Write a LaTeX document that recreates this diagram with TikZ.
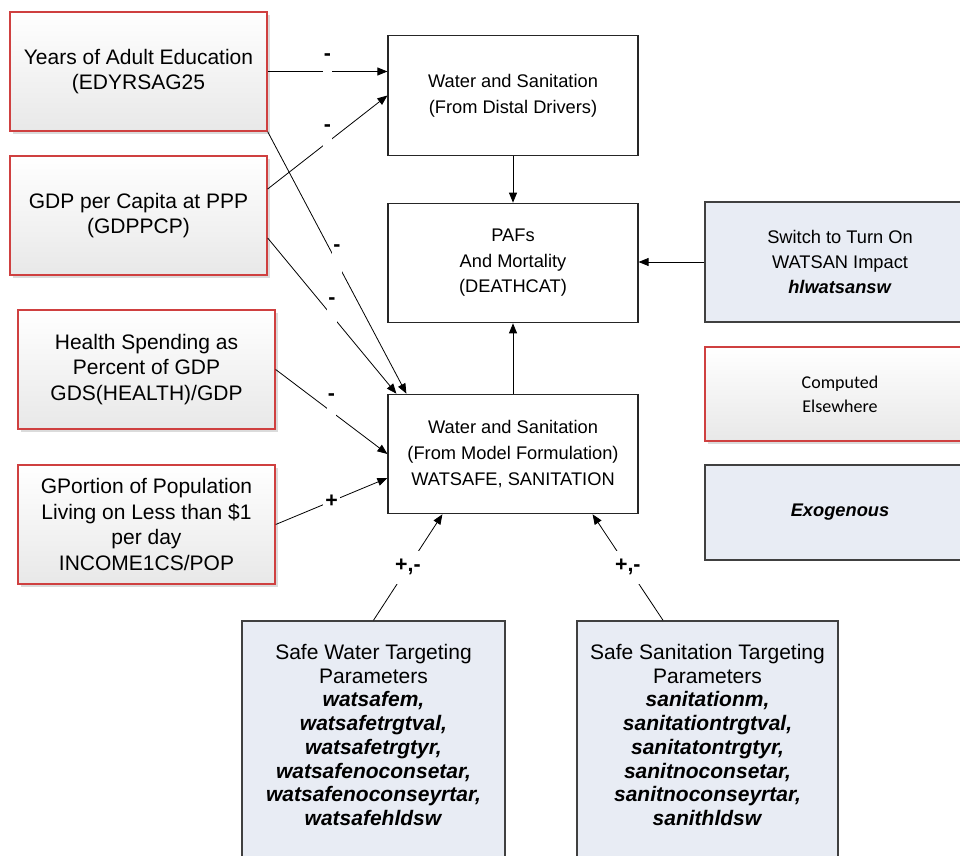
\documentclass[tikz,border=0pt]{standalone}
\usepackage{fontspec}
\setmainfont{Liberation Sans}
\newfontfamily\calfont{Carlito}
\usetikzlibrary{arrows.meta,shadows,calc}
\definecolor{boxred}{HTML}{CF4040}
\definecolor{boxgray}{HTML}{E8E8E8}
\definecolor{paramblue}{HTML}{E8ECF4}
\definecolor{edgegray}{HTML}{404040}
\begin{document}
\begin{tikzpicture}[x=0.75pt,y=-0.75pt,
  srcbox/.style={draw=boxred, line width=1pt, top color=white, bottom color=boxgray,
    drop shadow={shadow xshift=2.6pt, shadow yshift=-2.6pt, fill=black!14, opacity=1},
    minimum width=192.75pt, minimum height=89.25pt, inner sep=0pt, align=center,
    font=\fontsize{15.75}{19.3}\selectfont},
  calcbox/.style={draw=black!85, line width=0.9pt, fill=white,
    minimum width=187.5pt, minimum height=89.6pt, inner sep=0pt, align=center,
    font=\fontsize{13.7}{19.2}\selectfont},
  exobox/.style={draw=edgegray, line width=1.1pt, fill=paramblue,
    inner sep=0pt, align=center, font=\fontsize{13.7}{19}\selectfont},
  parmtext/.style={inner sep=0pt, align=center, font=\fontsize{15.75}{17.8}\selectfont},
  arr/.style={-{Triangle[length=7.5pt,width=6pt]}, line width=0.6pt},
  gap/.style={fill=white, inner sep=0pt, minimum width=7pt, minimum height=24pt},
  sgn/.style={inner sep=0pt, font=\bfseries\fontsize{16}{16}\selectfont},
  sgnbox/.style={fill=white, inner xsep=1.5pt, inner ysep=0pt, minimum height=25pt,
    font=\bfseries\fontsize{16}{16}\selectfont}
]
\useasboundingbox (0,0) rectangle (960,856);
\clip (0,0) rectangle (960,856);

% drivers computed elsewhere in the model
\node[srcbox] (yrs)  at (138.5,71.5)  {Years of Adult Education\\(EDYRSAG25};
\node[srcbox] (gdp)  at (138.5,215.5) {GDP per Capita at PPP\\(GDPPCP)};
\node[srcbox] (hlth) at (146.5,369.5) {Health Spending as\\Percent of GDP\\GDS(HEALTH)/GDP};
\node[srcbox] (gpor) at (146.5,524.5) {GPortion of Population\\Living on Less than \$1\\per day\\INCOME1CS/POP};

% central chain
\node[calcbox] (dist) at (513,95.5) {Water and Sanitation\\(From Distal Drivers)};
\node[calcbox] (paf)  at (513,263)  {PAFs\\And Mortality\\(DEATHCAT)};
\node[calcbox] (wsm)  at (513,454)  {Water and Sanitation\\(From Model Formulation)\\WATSAFE, SANITATION};

% switch and legend
\node[exobox, minimum width=202.5pt, minimum height=90pt] (sw) at (840,262)
  {Switch to Turn On\\WATSAN Impact\\\textbf{\textit{hlwatsansw}}};
\node[srcbox, minimum width=202.5pt, minimum height=70.5pt,
  font=\calfont\fontsize{13.5}{18}\selectfont] (comp) at (840,394) {Computed\\Elsewhere};
\node[exobox, minimum width=202.5pt, minimum height=71.25pt] (exo) at (840,512.5)
  {\textbf{\textit{Exogenous}}};

% targeting parameter boxes
\node[exobox, minimum width=197.25pt, minimum height=186.75pt] (water) at (373.5,745.5) {};
\node[parmtext] (watertxt) at (373.5,735)
  {Safe Water Targeting\\Parameters\\\textbf{\textit{watsafem,}}\\\textbf{\textit{watsafetrgtval,}}\\
   \textbf{\textit{watsafetrgtyr,}}\\\textbf{\textit{watsafenoconsetar,}}\\
   \textbf{\textit{watsafenoconseyrtar,}}\\\textbf{\textit{watsafehldsw}}};
\node[exobox, minimum width=195.75pt, minimum height=186.75pt] (san) at (707.5,745.5) {};
\node[parmtext] (santxt) at (707.5,735)
  {Safe Sanitation Targeting\\Parameters\\\textbf{\textit{sanitationm,}}\\\textbf{\textit{sanitationtrgtval,}}\\
   \textbf{\textit{sanitatontrgtyr,}}\\\textbf{\textit{sanitnoconsetar,}}\\
   \textbf{\textit{sanitnoconseyrtar,}}\\\textbf{\textit{sanithldsw}}};

% links
\draw[arr] (yrs.east) -- node[gap] (g1) {} node[sgn, yshift=10.5pt] (s1) {-} (yrs.east -| dist.west);
\draw[arr] ($(gdp.east)+(0,-26.5)$) -- node[gap] (g2) {} node[sgn, yshift=10.5pt] (s2) {-} (dist.west);
\draw[arr] (yrs.south east) -- node[gap] (g3) {} node[sgn, yshift=11pt] (s3) {-} ($(wsm.north west)+(19,0)$);
\draw[arr] ($(gdp.east)+(0,22.5)$) -- node[gap] (g4) {} node[sgn, yshift=11pt] (s4) {-} ($(wsm.north west)+(9,0)$);
\draw[arr] (hlth.east) -- node[gap] (g5) {} node[sgn, yshift=11pt] (s5) {-} (wsm.west);
\draw[arr] (gpor.east) -- node[sgnbox, minimum height=0pt, inner ysep=0.5pt] (s6) {+} ($(wsm.west)+(0,24)$);
\draw[arr] (water.north) -- node[sgnbox] (s7) {+,-} ($(wsm.south west)+(55,0)$);
\draw[arr] ($(san.north)+(-44.5,0)$) -- node[sgnbox] (s8) {+,-} ($(wsm.south east)+(-46,0)$);
\draw[arr] (dist.south) -- (paf.north);
\draw[arr] (wsm.north) -- (paf.south);
\draw[arr] (sw.west) -- (sw.west -| paf.east);
\end{tikzpicture}
\end{document}
